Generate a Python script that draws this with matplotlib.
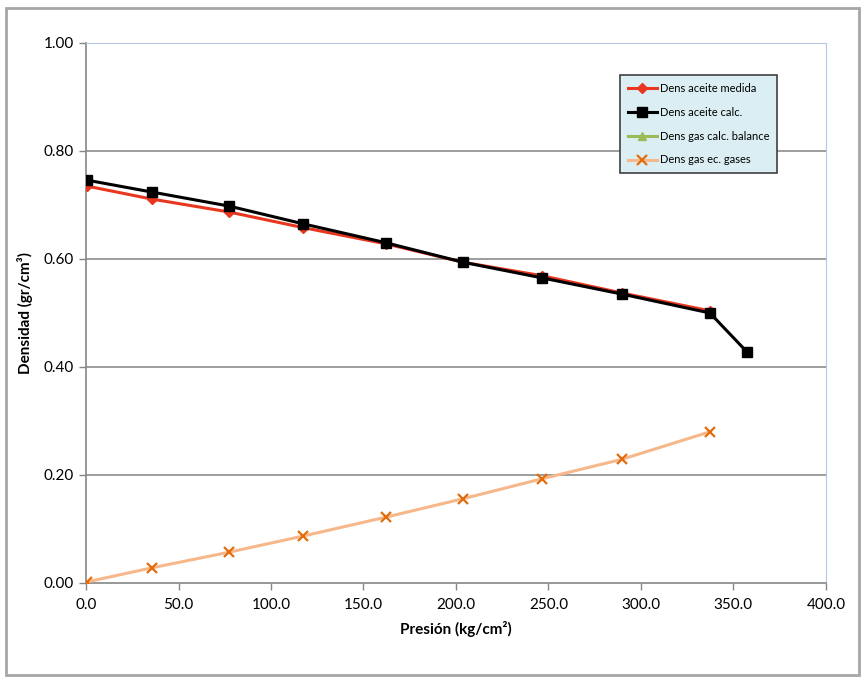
import matplotlib
matplotlib.use("Agg")
import matplotlib.pyplot as plt
from matplotlib.patches import Rectangle

plt.rcParams["font.family"] = ["Lato", "DejaVu Sans"]

# pressures (kg/cm2)
presion_calc = [0.5, 35.5, 77.3, 117.5, 162.2, 203.8, 246.5, 289.7, 337.3, 357.3]
presion = presion_calc[:-1]

dens_aceite_medida = [0.735, 0.711, 0.687, 0.658, 0.628, 0.594, 0.569, 0.537, 0.504]
dens_aceite_calc = [0.746, 0.724, 0.698, 0.665, 0.630, 0.594, 0.565, 0.535, 0.500, 0.428]
dens_gas_balance = []
dens_gas_gases = [0.002, 0.028, 0.057, 0.087, 0.122, 0.156, 0.193, 0.229, 0.280]

xticks = [0, 50, 100, 150, 200, 250, 300, 350, 400]
yticks = [0.0, 0.2, 0.4, 0.6, 0.8, 1.0]

fig = plt.figure(figsize=(8.63, 6.79), dpi=100)
ax = fig.add_axes([0.0997, 0.1414, 0.8573, 0.7953])

# outer chart frame
fig.patches.append(Rectangle((0.007, 0.006), 0.988, 0.982, transform=fig.transFigure,
                             fill=False, edgecolor="#a6a6a6", linewidth=2.0))

ax.plot(presion, dens_aceite_medida, color="#e8361f", lw=2.2, marker="D",
        ms=5, label="Dens aceite medida", zorder=3)
ax.plot(presion_calc, dens_aceite_calc, color="black", lw=2.2, marker="s",
        ms=7, label="Dens aceite calc.", zorder=4)
ax.plot(presion[:len(dens_gas_balance)], dens_gas_balance, color="#9bbb59", lw=2.2,
        marker="^", ms=6, label="Dens gas calc. balance")
ax.plot(presion, dens_gas_gases, color="#f6b88a", lw=2.2, marker="x", ms=7,
        mew=1.6, mec="#e46c0a", label="Dens gas ec. gases", zorder=3)

ax.set_xlim(0, 400)
ax.set_ylim(0, 1.0)
ax.set_xticks(xticks)
ax.set_xticklabels([f"{v:.1f}" for v in xticks])
ax.set_yticks(yticks)
ax.set_yticklabels([f"{v:.2f}" for v in yticks])
ax.tick_params(axis="both", labelsize=11, color="#868686", length=5, width=1)
ax.tick_params(axis="x", pad=6)

for y in yticks[1:-1]:
    ax.axhline(y, color="#8c8c8c", lw=1.2, zorder=1)

ax.spines["left"].set_color("#868686")
ax.spines["bottom"].set_color("#868686")
ax.spines["left"].set_linewidth(1.2)
ax.spines["bottom"].set_linewidth(1.2)
ax.spines["top"].set_color("#b4c7e7")
ax.spines["right"].set_color("#b4c7e7")

ax.set_xlabel("Presión (kg/cm²)", fontsize=11, fontweight="bold", labelpad=6)
ax.set_ylabel("Densidad (gr/cm³)", fontsize=11, fontweight="bold", labelpad=8)

leg = ax.legend(loc="upper left", bbox_to_anchor=(0.722, 0.94), fontsize=8,
                frameon=True, fancybox=False, handlelength=2.6, handletextpad=0.3,
                borderpad=0.7, labelspacing=1.15, borderaxespad=0)
leg.get_frame().set_facecolor("#dbeef4")
leg.get_frame().set_edgecolor("#404040")
leg.get_frame().set_linewidth(1.2)
leg.get_frame().set_alpha(1)

fig.savefig("out.png", dpi=100)
